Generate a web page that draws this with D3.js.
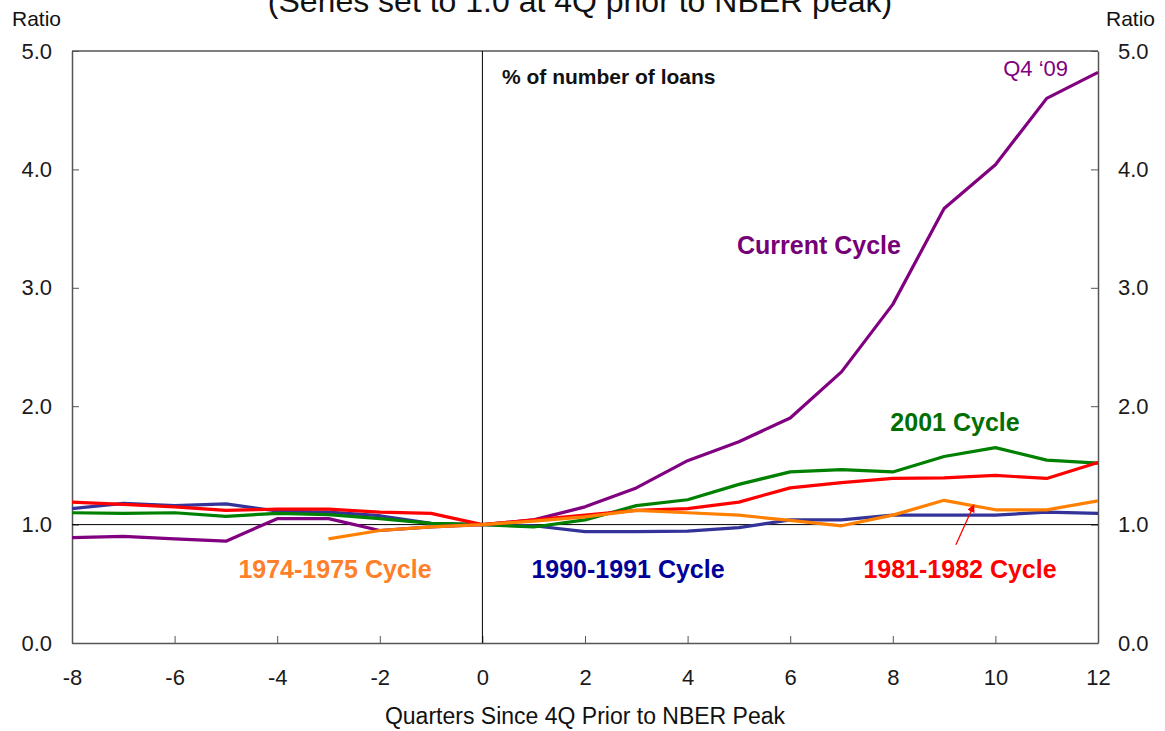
<!DOCTYPE html>
<html>
<head>
<meta charset="utf-8">
<script src="https://cdn.jsdelivr.net/npm/d3@7"></script>
<style>
  body { margin: 0; background: #fff; }
  svg { display: block; font-family: Arial, "Liberation Sans", sans-serif; }
  .tick text { font-size: 22px; fill: #1a1a1a; }
  .axis path, .axis line { stroke: #555; }
</style>
</head>
<body>
<div id="graphHere"></div>
<script>
// quarters since 4Q prior to NBER peak
var quarters = [-8,-7,-6,-5,-4,-3,-2,-1,0,1,2,3,4,5,6,7,8,9,10,11,12];

var currentCycle = [0.89,0.90,0.88,0.86,1.05,1.05,0.95,0.98,1.00,1.04,1.15,1.31,1.54,1.70,1.90,2.29,2.86,3.67,4.04,4.60,4.82];
var cycle2001    = [1.10,1.095,1.10,1.07,1.095,1.085,1.05,1.01,1.00,0.98,1.04,1.16,1.21,1.34,1.445,1.465,1.445,1.575,1.65,1.545,1.52];
var cycle1981    = [1.19,1.17,1.15,1.12,1.13,1.13,1.105,1.095,1.00,1.04,1.08,1.12,1.135,1.19,1.31,1.355,1.39,1.395,1.415,1.39,1.525];
var cycle1990    = [1.135,1.18,1.16,1.175,1.115,1.105,1.075,1.01,1.00,0.99,0.94,0.94,0.945,0.975,1.04,1.04,1.08,1.08,1.08,1.105,1.095];
var cycle1974    = [null,null,null,null,null,0.88,0.95,0.98,1.00,1.03,1.065,1.12,1.10,1.08,1.035,0.99,1.08,1.205,1.125,1.125,1.20];

var xTicks = [-8,-6,-4,-2,0,2,4,6,8,10,12];
var yTicks = [0,1,2,3,4,5];

var series = [
  {name:"1990-1991 Cycle", values:cycle1990, color:"#333399", label:"#000099", lx:628, ly:0.549},
  {name:"2001 Cycle", values:cycle2001, color:"#008000", label:"#006e00", lx:955, ly:1.79},
  {name:"Current Cycle", values:currentCycle, color:"#800080", label:"#760076", lx:819, ly:3.285},
  {name:"1981-1982 Cycle", values:cycle1981, color:"#ff0000", label:"#ff0000", lx:960, ly:0.549},
  {name:"1974-1975 Cycle", values:cycle1974, color:"#ff8000", label:"#ff7f2a", lx:335, ly:0.549}
];

var svg = d3.select("#graphHere").append("svg")
  .attr("width", 1165)
  .attr("height", 731);

var x = d3.scaleLinear().domain([-8,12]).range([72,1098]);
var y = d3.scaleLinear().domain([0,5]).range([643,51]);

// title (cut at the top edge as in the source)
svg.append("text")
  .attr("x", 580).attr("y", 12)
  .attr("text-anchor","middle")
  .style("font-size","32px")
  .attr("fill","#111")
  .text("(Series set to 1.0 at 4Q prior to NBER peak)");

svg.append("text").attr("x",12).attr("y",26).style("font-size","21px").attr("fill","#111").text("Ratio");
svg.append("text").attr("x",1106).attr("y",26).style("font-size","21px").attr("fill","#111").text("Ratio");

// axes
svg.append("g").attr("class","axis")
  .attr("transform","translate(72,0)")
  .call(d3.axisLeft(y).tickValues(yTicks).tickFormat(d3.format(".1f")).tickSizeInner(-7).tickSizeOuter(0).tickPadding(20));

svg.append("g").attr("class","axis")
  .attr("transform","translate(1098,0)")
  .call(d3.axisRight(y).tickValues(yTicks).tickFormat(d3.format(".1f")).tickSizeInner(-7).tickSizeOuter(0).tickPadding(20));

svg.append("g").attr("class","axis")
  .attr("transform","translate(0,643)")
  .call(d3.axisBottom(x).tickValues(xTicks).tickFormat(function(d) { return String(d); }).tickSizeInner(-7).tickSizeOuter(0).tickPadding(26));

svg.selectAll(".axis path").attr("stroke-width",1.5);

// top border
svg.append("line")
  .attr("x1", x(-8)).attr("x2", x(12))
  .attr("y1", y(5)).attr("y2", y(5))
  .attr("stroke","#555").attr("stroke-width",1.5);

// reference lines
svg.append("line")
  .attr("x1", x(0)).attr("x2", x(0))
  .attr("y1", y(0)).attr("y2", y(5))
  .attr("stroke","#000").attr("stroke-width",1);
svg.append("line")
  .attr("x1", x(-8)).attr("x2", x(12))
  .attr("y1", y(1)).attr("y2", y(1))
  .attr("stroke","#000").attr("stroke-width",1);

var line = d3.line()
  .defined(function(d) { return d[1] != null; })
  .x(function(d) { return x(d[0]); })
  .y(function(d) { return y(d[1]); });

svg.selectAll("path.series")
  .data(series)
  .enter().append("path")
  .attr("class","series")
  .attr("fill","none")
  .attr("stroke", function(d) { return d.color; })
  .attr("stroke-width", 3.2)
  .attr("stroke-linejoin","round")
  .attr("d", function(d) { return line(quarters.map(function(q, i) { return [q, d.values[i]]; })); });

svg.selectAll("text.label")
  .data(series)
  .enter().append("text")
  .attr("class","label")
  .attr("x", function(d) { return d.lx; })
  .attr("y", function(d) { return y(d.ly); })
  .attr("text-anchor","middle")
  .style("font-size","25px")
  .style("font-weight","bold")
  .attr("fill", function(d) { return d.label; })
  .text(function(d) { return d.name; });

svg.append("text")
  .attr("x", 502).attr("y", 84)
  .style("font-size","21px").style("font-weight","bold")
  .attr("fill","#111")
  .text("% of number of loans");

svg.append("text")
  .attr("x", 1068).attr("y", 76)
  .attr("text-anchor","end")
  .style("font-size","22px")
  .attr("fill","#800080")
  .text("Q4 \u201809");

// red arrow pointing at the 1981-1982 line
svg.append("defs").append("marker")
  .attr("id","arrow")
  .attr("viewBox","0 0 10 10")
  .attr("refX",9).attr("refY",5)
  .attr("markerWidth",6).attr("markerHeight",6)
  .attr("orient","auto")
  .append("path").attr("d","M0,0 L10,5 L0,10 z").attr("fill","#ff0000");

svg.append("line")
  .attr("x1", x(9.23)).attr("y1", y(0.83))
  .attr("x2", x(9.58)).attr("y2", y(1.165))
  .attr("stroke","#ff0000").attr("stroke-width",1.3)
  .attr("marker-end","url(#arrow)");

svg.append("text")
  .attr("x", 585).attr("y", 724)
  .attr("text-anchor","middle")
  .style("font-size","23px")
  .attr("fill","#111")
  .text("Quarters Since 4Q Prior to NBER Peak");
</script>
</body>
</html>
